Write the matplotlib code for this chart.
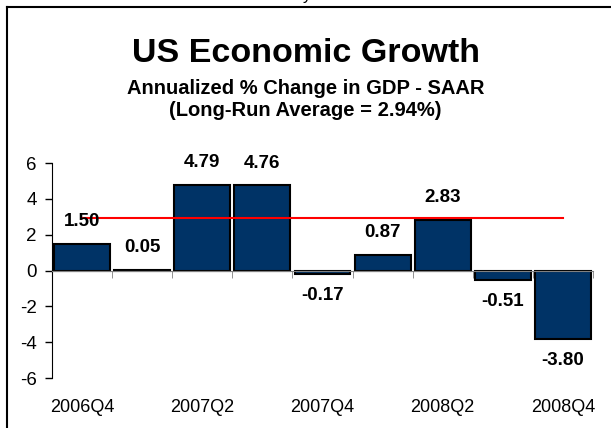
import matplotlib
matplotlib.use("Agg")
from matplotlib import pyplot as plt
from matplotlib.lines import Line2D
import numpy as np

plt.rcParams['font.family'] = ['Liberation Sans', 'DejaVu Sans']
plt.rcParams['axes.unicode_minus'] = False

quarters = ["2006Q4", "2007Q1", "2007Q2", "2007Q3", "2007Q4",
            "2008Q1", "2008Q2", "2008Q3", "2008Q4"]
growth = [1.50, 0.05, 4.79, 4.76, -0.17, 0.87, 2.83, -0.51, -3.80]
long_run_avg = 2.94
shown_labels = ["2006Q4", "2007Q2", "2007Q4", "2008Q2", "2008Q4"]

fig = plt.figure(figsize=(6.11, 4.28), dpi=100)
ax = fig.add_axes([0.0851, 0.1168, 0.8854, 0.5023])

x = np.arange(len(quarters))
ax.bar(x, growth, width=0.93, color="#003366", edgecolor="black", linewidth=1.5, zorder=2)
ax.plot(x, [long_run_avg] * len(x), color="#ff0000", linewidth=1.5, zorder=3)

for xi, v in zip(x, growth):
    off = 16 if v >= 0 else -16
    ax.annotate("%.2f" % v, (xi, v), xytext=(0, off), textcoords="offset points",
                ha="center", va="center", fontsize=13.5, fontweight="bold", zorder=4)

ax.set_xlim(-0.5, len(x) - 0.5)
ax.set_ylim(-6, 6)
ax.set_yticks([-6, -4, -2, 0, 2, 4, 6])
ax.tick_params(axis="y", labelsize=13.5, length=5, width=1, pad=6)

# x axis sits at zero with marks between quarters
ax.spines["bottom"].set_position(("data", 0))
ax.spines["bottom"].set_color("#808080")
ax.spines["top"].set_visible(False)
ax.spines["right"].set_visible(False)
ax.set_xticks(np.arange(-0.5, len(x)), minor=True)
ax.set_xticks([])
ax.tick_params(axis="x", which="minor", length=5, color="#808080", direction="out")

for q in shown_labels:
    ax.text(quarters.index(q), -0.135, q, transform=ax.get_xaxis_transform(),
            ha="center", va="center", fontsize=13)

fig.text(0.5, 0.875, "US Economic Growth", ha="center", va="center",
         fontsize=24.5, fontweight="bold")
fig.text(0.5, 0.794, "Annualized % Change in GDP - SAAR", ha="center", va="center",
         fontsize=14.5, fontweight="bold")
fig.text(0.5, 0.741, "(Long-Run Average = 2.94%)", ha="center", va="center",
         fontsize=14.5, fontweight="bold")
fig.text(0.503, 1.0, "y", ha="center", va="baseline", fontsize=12)

# frame of the chart area
fig.add_artist(Line2D([7 / 611, 1.0], [1 - 7 / 428, 1 - 7 / 428], color="black", linewidth=1.5))
fig.add_artist(Line2D([7 / 611, 7 / 611], [0.0, 1 - 7 / 428], color="black", linewidth=1.5))

fig.savefig("out.png", dpi=100)
